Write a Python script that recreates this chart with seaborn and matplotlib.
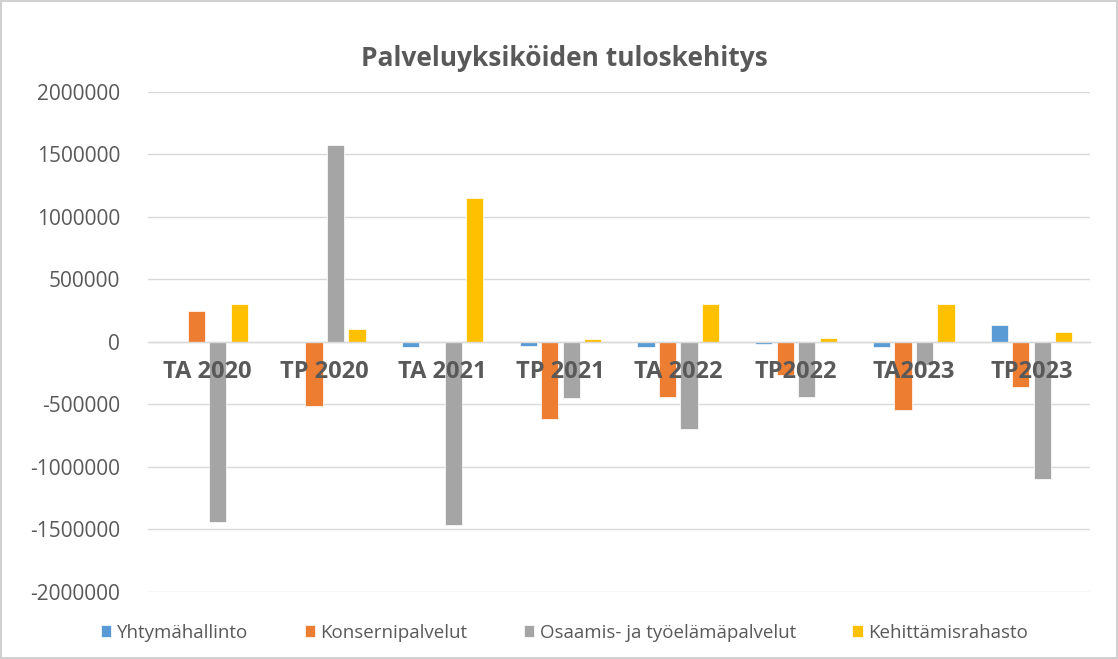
import matplotlib

matplotlib.use("Agg")

import matplotlib.pyplot as plt
import pandas as pd
import seaborn as sns

CATEGORIES = ["TA 2020", "TP 2020", "TA 2021", "TP 2021", "TA 2022", "TP2022", "TA2023", "TP2023"]
SERIES = ["Yhtymähallinto", "Konsernipalvelut", "Osaamis- ja työelämäpalvelut", "Kehittämisrahasto"]

yhtymahallinto = [0, 0, -37000, -35000, -37000, -15000, -37000, 134000]
konsernipalvelut = [248000, -512000, 0, -620000, -437000, -262000, -545000, -357000]
osaamis = [-1440000, 1575000, -1465000, -450000, -699000, -437000, -187000, -1095000]
kehittamisrahasto = [300000, 103000, 1150000, 20000, 300000, 30000, 300000, 83000]

COLORS = ["#5B9BD5", "#ED7D31", "#A5A5A5", "#FFC000"]
TEXT = "#595959"


def build_frame() -> pd.DataFrame:
    rows = []
    for name, values in zip(SERIES, [yhtymahallinto, konsernipalvelut, osaamis, kehittamisrahasto]):
        for cat, val in zip(CATEGORIES, values):
            rows.append({"kausi": cat, "yksikko": name, "tulos": val})
    return pd.DataFrame(rows)


def main() -> None:
    df = build_frame()
    sns.set_theme(style="white")
    plt.rcParams["font.family"] = ["Open Sans", "DejaVu Sans"]

    fig = plt.figure(figsize=(11.18, 6.59), dpi=100)
    fig.patch.set_edgecolor("#D0D0D0")
    fig.patch.set_linewidth(1.5)
    ax = fig.add_axes([0.1324, 0.1017, 0.843, 0.7587])

    sns.barplot(
        data=df,
        x="kausi",
        y="tulos",
        hue="yksikko",
        order=CATEGORIES,
        hue_order=SERIES,
        palette=COLORS,
        width=0.73,
        gap=0.2,
        saturation=1,
        edgecolor="white",
        linewidth=0.5,
        errorbar=None,
        ax=ax,
    )

    ax.set_ylim(-2000000, 2000000)
    ax.set_yticks(range(-2000000, 2000001, 500000))
    ax.set_yticklabels([str(v) for v in range(-2000000, 2000001, 500000)])
    ax.yaxis.grid(True, color="#D9D9D9", linewidth=1)
    ax.set_axisbelow(True)
    # category labels sit on top of the bars, like in the original
    ax.xaxis.set_zorder(5)
    for side in ["top", "right", "left"]:
        ax.spines[side].set_visible(False)
    ax.spines["bottom"].set_position(("data", 0))
    ax.spines["bottom"].set_color("#D9D9D9")
    ax.spines["bottom"].set_linewidth(1)
    ax.tick_params(axis="both", length=0)
    ax.tick_params(axis="y", labelsize=15, labelcolor=TEXT, pad=20)
    ax.tick_params(axis="x", labelsize=17, labelcolor=TEXT, pad=13)
    for lbl in ax.get_xticklabels():
        lbl.set_fontweight("bold")
    ax.set_xlabel("")
    ax.set_ylabel("")

    fig.suptitle("Palveluyksiköiden tuloskehitys", x=0.505, y=0.932, fontsize=19,
                 fontweight="bold", color=TEXT)

    ax.legend_.remove()
    handles, labels = ax.get_legend_handles_labels()
    fig.legend(
        handles, labels,
        loc="center", bbox_to_anchor=(0.505, 0.04), ncol=4, frameon=False,
        fontsize=13.5, labelcolor=TEXT, handlelength=0.55, handleheight=0.55,
        handletextpad=0.3, columnspacing=3.0,
    )

    fig.savefig("out.png", dpi=100)
    plt.close(fig)


if __name__ == "__main__":
    main()
